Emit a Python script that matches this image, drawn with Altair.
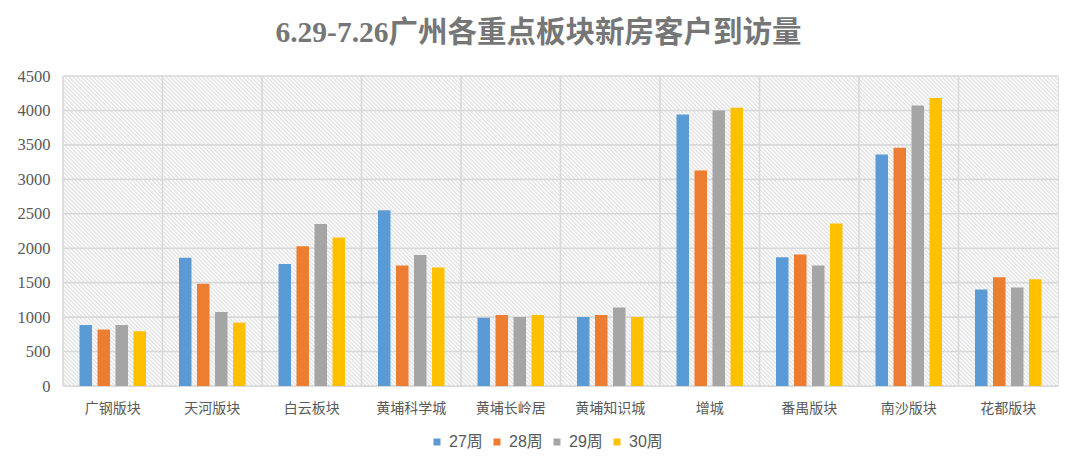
import altair as alt
import pandas as pd

# ---- data ----
categories = ["广钢版块", "天河版块", "白云板块", "黄埔科学城", "黄埔长岭居",
              "黄埔知识城", "增城", "番禺版块", "南沙版块", "花都版块"]
weeks = ["27周", "28周", "29周", "30周"]
w27 = [885, 1860, 1770, 2550, 990, 1000, 3940, 1870, 3360, 1400]
w28 = [820, 1485, 2030, 1750, 1030, 1030, 3130, 1910, 3460, 1580]
w29 = [885, 1075, 2350, 1900, 1000, 1140, 4000, 1750, 4070, 1430]
w30 = [795, 920, 2155, 1720, 1030, 1000, 4040, 2360, 4180, 1550]
y_ticks = [0, 500, 1000, 1500, 2000, 2500, 3000, 3500, 4000, 4500]
colors = ["#5B9BD5", "#ED7D31", "#A5A5A5", "#FFC000"]

series = [w27, w28, w29, w30]
rows = []
for wk, vals in zip(weeks, series):
    for c, v in zip(categories, vals):
        rows.append({"cat": c, "week": wk, "value": v})
df = pd.DataFrame(rows)

W, H = 995, 310

# hatched background as a striped linear gradient (45 degree stripes)
r = H / W
a = (1 + r) / (1 + r * r)
b = a * r
dist = (a * W + b * H) / (2 ** 0.5)
period = 2.85
N = int(dist / period)
stops = []
for k in range(N):
    stops.append({"offset": k / N, "color": "#e2e2e2"})
    stops.append({"offset": (k + 0.5) / N, "color": "#ffffff"})
stops.append({"offset": 1.0, "color": "#e2e2e2"})
hatch = {"gradient": "linear", "x1": 0, "y1": 1, "x2": a, "y2": 1 - b, "stops": stops}

xscale = alt.Scale(domain=categories, paddingInner=0, paddingOuter=0)
yscale = alt.Scale(domain=[0, 4500], nice=False)

xaxis = alt.Axis(title=None, labelAngle=0, ticks=False, domain=False, grid=False,
                 labelFont="Noto Sans CJK SC", labelFontSize=14,
                 labelColor="#595959", labelPadding=15)
yaxis = alt.Axis(title=None, values=y_ticks, format="d", ticks=False, domain=False, grid=False,
                 labelFont="Liberation Serif", labelFontSize=16.5,
                 labelColor="#595959", labelPadding=13)

bg = alt.Chart(pd.DataFrame({"k": [0]})).mark_rect(fill=hatch).encode(opacity=alt.value(1))

hgrid = alt.Chart(pd.DataFrame({"value": y_ticks})).mark_rule(
    color="#d9d9d9", strokeWidth=1.6
).encode(y=alt.Y("value:Q", scale=yscale, axis=yaxis))

vgrid = alt.Chart(pd.DataFrame({"cat": categories})).mark_rule(
    color="#d9d9d9", strokeWidth=1.6
).encode(x=alt.X("cat:N", scale=xscale, bandPosition=0, axis=xaxis))

bars = alt.Chart(df).mark_bar().encode(
    x=alt.X("cat:N", scale=xscale, sort=categories, axis=xaxis),
    xOffset=alt.XOffset("week:N", sort=weeks,
                        scale=alt.Scale(domain=weeks, paddingInner=0.306, paddingOuter=0.917)),
    y=alt.Y("value:Q", scale=yscale, axis=yaxis),
    color=alt.Color("week:N", scale=alt.Scale(domain=weeks, range=colors),
                    legend=alt.Legend(title=None, orient="none", legendX=366, legendY=358,
                                      direction="horizontal", symbolType="square",
                                      symbolSize=49, symbolStrokeWidth=0,
                                      labelFont="Liberation Sans, Noto Sans CJK SC",
                                      labelFontSize=16, labelColor="#595959",
                                      labelOffset=4, columnPadding=6, padding=0)),
)

chart = alt.layer(bg, hgrid, vgrid, bars).properties(
    width=W, height=H,
    autosize=alt.AutoSizeParams(type="none"),
    padding={"left": 55, "top": 68, "right": 10, "bottom": 70},
    title=alt.TitleParams(
        text="6.29-7.26广州各重点板块新房客户到访量",
        font="Liberation Serif, Noto Sans CJK SC", fontSize=29.5, fontWeight="bold",
        color="#767676", anchor="middle", frame="group", dx=-22,
        baseline="alphabetic", offset=-3,
    ),
).configure_view(stroke="#d9d9d9", strokeWidth=1.6).configure(
    background="white"
).configure_axisY(labelFont="Liberation Serif", labelFontSize=16.5)

chart.save("out.html", embed_options={"renderer": "svg", "actions": False})
